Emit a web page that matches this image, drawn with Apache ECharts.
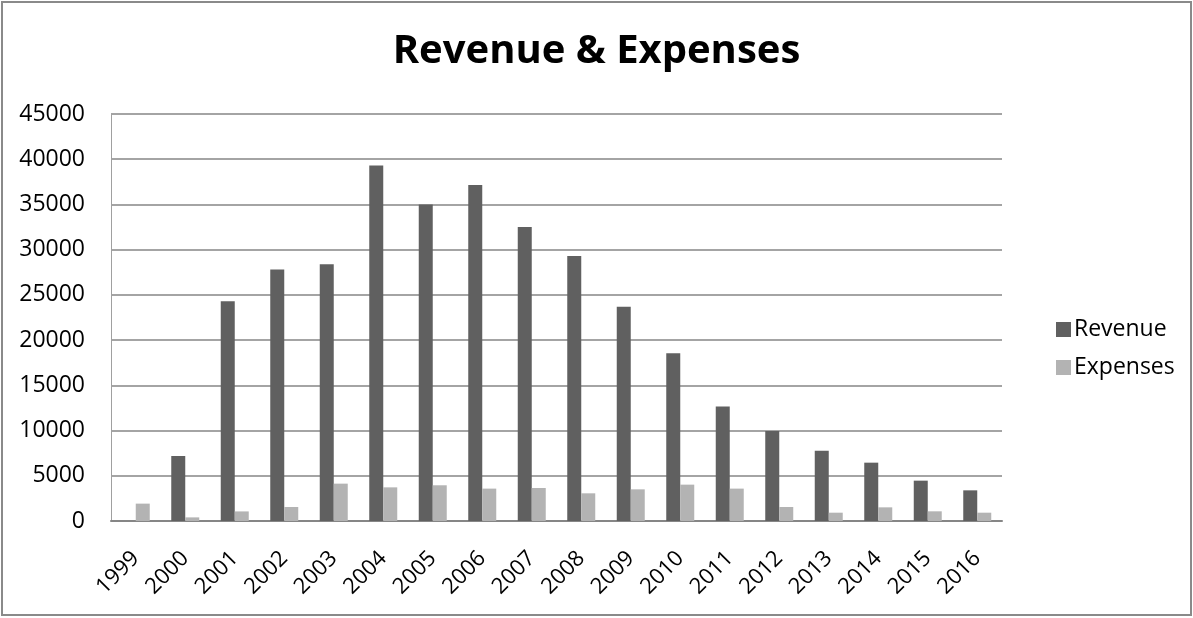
<!DOCTYPE html>
<html>
<head>
<meta charset="utf-8">
<script src="https://cdn.jsdelivr.net/npm/echarts@6/dist/echarts.min.js"></script>
<style>
html,body{margin:0;padding:0;background:#fff;}
#c{width:1193px;height:618px;}
</style>
</head>
<body>
<div id="c"></div>
<script>
const categories = ['1999','2000','2001','2002','2003','2004','2005','2006','2007','2008','2009','2010','2011','2012','2013','2014','2015','2016'];
const revenue = [0, 7200, 24300, 27800, 28400, 39300, 35000, 37150, 32500, 29300, 23700, 18550, 12650, 9950, 7780, 6450, 4460, 3390];
const expenses = [1920, 400, 1060, 1550, 4130, 3720, 3950, 3580, 3650, 3060, 3500, 4020, 3580, 1550, 920, 1510, 1070, 920];
const yTicks = [0, 5000, 10000, 15000, 20000, 25000, 30000, 35000, 40000, 45000];

const chart = echarts.init(document.getElementById('c'), null, {renderer: 'canvas'});
const font = '"Open Sans", "DejaVu Sans", sans-serif';
chart.setOption({
  animation: false,
  backgroundColor: '#fff',
  title: {
    text: 'Revenue & Expenses',
    left: 'center',
    top: 27,
    textStyle: {fontFamily: font, fontWeight: 'bold', fontSize: 40, color: '#000'}
  },
  graphic: [{
    type: 'rect',
    shape: {x: 2, y: 2, width: 1189, height: 613},
    style: {fill: 'none', stroke: '#8a8a8a', lineWidth: 2},
    silent: true
  }],
  legend: {
    orient: 'vertical',
    left: 1051,
    top: 313,
    itemWidth: 15,
    itemHeight: 15,
    itemGap: 15,
    icon: 'rect',
    textStyle: {fontFamily: font, fontSize: 23, color: '#000', padding: [0, 0, 0, -2]},
    data: ['Revenue', 'Expenses']
  },
  grid: {left: 111, right: 191, top: 114, bottom: 97},
  xAxis: {
    type: 'category',
    data: categories,
    axisLine: {show: true, lineStyle: {color: '#868686', width: 2}},
    axisTick: {show: false},
    axisLabel: {rotate: 45, margin: 34, fontFamily: font, fontSize: 22, color: '#000', interval: 0}
  },
  yAxis: {
    type: 'value',
    min: yTicks[0],
    max: yTicks[yTicks.length - 1],
    interval: 5000,
    axisLine: {show: true, lineStyle: {color: '#a0a0a0', width: 1}},
    axisTick: {show: false},
    splitLine: {show: true, lineStyle: {color: '#868686', width: 1.5}},
    axisLabel: {margin: 26, fontFamily: font, fontSize: 23, color: '#000', formatter: v => String(v)}
  },
  series: [
    {
      name: 'Revenue',
      type: 'bar',
      data: revenue,
      barWidth: 14,
      barGap: '0%',
      itemStyle: {color: '#606060'}
    },
    {
      name: 'Expenses',
      type: 'bar',
      data: expenses,
      barWidth: 14,
      barGap: '0%',
      itemStyle: {color: '#b3b3b3'}
    }
  ]
});
</script>
</body>
</html>
